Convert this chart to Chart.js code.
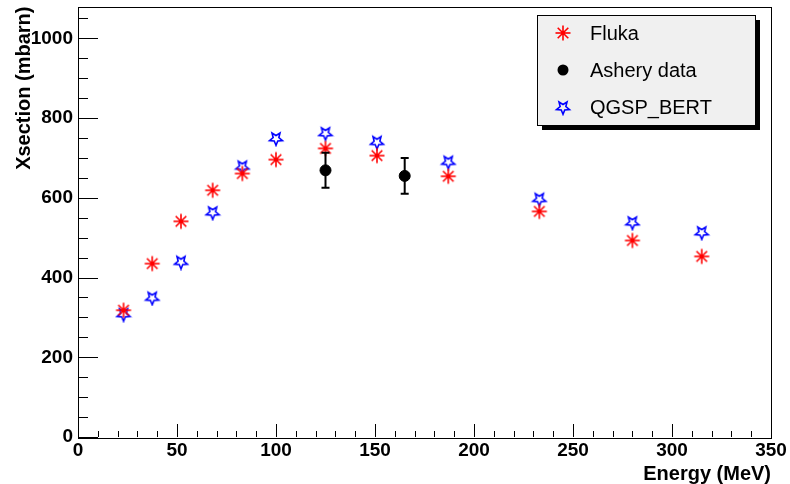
<!DOCTYPE html>
<html>
<head>
<meta charset="utf-8">
<script src="https://cdn.jsdelivr.net/npm/chart.js@4/dist/chart.umd.min.js"></script>
<style>
  html, body { margin: 0; padding: 0; background: #fff; }
  #chart { display: block; }
</style>
</head>
<body>
<canvas id="chart" width="790" height="484"></canvas>
<script>
// Cross-section vs energy (ROOT-style plot)

const energy = [23, 37.5, 52, 68, 83, 100, 125, 151, 187, 233, 280, 315];
const fluka = [318, 435, 541, 619, 661, 696, 724, 706, 654, 566, 493, 453];
const bert = [309, 350, 440, 564, 679, 750, 763, 741, 691, 598, 539, 514];
const asheryEnergy = [125, 165];
const ashery = [669, 655];
const asheryErr = [44, 45];

const xTicks = [0, 50, 100, 150, 200, 250, 300, 350];
const yTicks = [0, 200, 400, 600, 800, 1000];
const X_MINOR = 10;
const Y_MINOR = 50;

const FONT = "'Liberation Sans', Arial, Helvetica, sans-serif";

// ===== Marker images =====
function makeAsterisk() {
  const c = document.createElement("canvas");
  c.width = 18; c.height = 18;
  const g = c.getContext("2d");
  g.strokeStyle = "#ff0000";
  g.lineWidth = 1.6;
  const r = 7.5;
  for (let k = 0; k < 4; k++) {
    const a = k * Math.PI / 4;
    g.beginPath();
    g.moveTo(9 - r * Math.cos(a), 9 - r * Math.sin(a));
    g.lineTo(9 + r * Math.cos(a), 9 + r * Math.sin(a));
    g.stroke();
  }
  g.fillStyle = "#ff0000";
  g.beginPath();
  g.arc(9, 9, 2.2, 0, Math.PI * 2);
  g.fill();
  return c;
}

function makeStar() {
  const c = document.createElement("canvas");
  c.width = 18; c.height = 18;
  const g = c.getContext("2d");
  g.strokeStyle = "#0000ff";
  g.lineWidth = 1.6;
  const R = 6.8, ri = 3;
  g.beginPath();
  for (let i = 0; i < 10; i++) {
    const a = Math.PI / 2 + i * Math.PI / 5;
    const rr = i % 2 === 0 ? R : ri;
    const px = 9 + rr * Math.cos(a);
    const py = 9.5 + rr * Math.sin(a);
    if (i === 0) g.moveTo(px, py); else g.lineTo(px, py);
  }
  g.closePath();
  g.stroke();
  return c;
}

const asteriskImg = makeAsterisk();
const starImg = makeStar();

// keep the frame fixed: no extra padding for overflowing tick labels
function noPad(s) {
  s.paddingTop = 0; s.paddingBottom = 0;
  s.paddingLeft = 0; s.paddingRight = 0;
}

// ===== Plugins =====
const frameTicks = {
  id: "frameTicks",
  afterDraw(chart) {
    const { ctx, chartArea: a, scales: { x, y } } = chart;
    ctx.save();
    ctx.strokeStyle = "#000";
    ctx.lineWidth = 1;
    ctx.strokeRect(Math.round(a.left) + 0.5, Math.round(a.top) + 0.5,
      Math.round(a.right - a.left), Math.round(a.bottom - a.top));

    ctx.beginPath();
    for (let v = x.min; v <= x.max; v += X_MINOR) {
      const px = Math.round(x.getPixelForValue(v)) + 0.5;
      const len = xTicks.includes(v) ? 13 : 6;
      ctx.moveTo(px, a.bottom);
      ctx.lineTo(px, a.bottom - len);
    }
    for (let v = y.min; v <= y.max; v += Y_MINOR) {
      const py = Math.round(y.getPixelForValue(v)) + 0.5;
      const len = yTicks.includes(v) ? 20 : 10;
      ctx.moveTo(a.left, py);
      ctx.lineTo(a.left + len, py);
    }
    ctx.stroke();
    ctx.restore();
  },
};

const errorBars = {
  id: "errorBars",
  afterDatasetsDraw(chart) {
    const { ctx, scales: { x, y } } = chart;
    ctx.save();
    ctx.strokeStyle = "#000";
    ctx.lineWidth = 2;
    asheryEnergy.forEach((e, i) => {
      const px = x.getPixelForValue(e);
      const hi = y.getPixelForValue(ashery[i] + asheryErr[i]);
      const lo = y.getPixelForValue(ashery[i] - asheryErr[i]);
      ctx.beginPath();
      ctx.moveTo(px, hi); ctx.lineTo(px, lo);
      ctx.moveTo(px - 4, hi); ctx.lineTo(px + 4, hi);
      ctx.moveTo(px - 4, lo); ctx.lineTo(px + 4, lo);
      ctx.stroke();
    });
    ctx.restore();
  },
};

const legendBox = {
  id: "legendBox",
  afterDraw(chart) {
    const { ctx } = chart;
    const bx = 537, by = 15, bw = 218, bh = 110, sh = 5;
    ctx.save();
    ctx.fillStyle = "#000";
    ctx.fillRect(bx + sh, by + sh, bw, bh);
    ctx.fillStyle = "#f0f0f0";
    ctx.fillRect(bx, by, bw, bh);
    ctx.strokeStyle = "#000";
    ctx.lineWidth = 1;
    ctx.strokeRect(bx + 0.5, by + 0.5, bw, bh);

    ctx.font = "20px " + FONT;
    ctx.fillStyle = "#000";
    ctx.textBaseline = "middle";
    chart.data.datasets.forEach((ds, i) => {
      const ly = 33 + i * 37;
      const mx = 563;
      if (ds.pointStyle instanceof HTMLCanvasElement) {
        ctx.drawImage(ds.pointStyle, mx - 9, ly - 9);
      } else {
        ctx.beginPath();
        ctx.arc(mx, ly, 5.5, 0, Math.PI * 2);
        ctx.fill();
      }
      ctx.fillText(ds.label, 590, ly + 1);
    });
    ctx.restore();
  },
};

// ===== Chart =====
const toPoints = (xs, ys) => xs.map((v, i) => ({ x: v, y: ys[i] }));

new Chart(document.getElementById("chart"), {
  type: "scatter",
  data: {
    datasets: [
      {
        label: "Fluka",
        data: toPoints(energy, fluka),
        pointStyle: asteriskImg,
        order: 1,
      },
      {
        label: "Ashery data",
        data: toPoints(asheryEnergy, ashery),
        pointStyle: "circle",
        pointRadius: 5.5,
        backgroundColor: "#000",
        borderColor: "#000",
        order: 2,
      },
      {
        label: "QGSP_BERT",
        data: toPoints(energy, bert),
        pointStyle: starImg,
        order: 3,
      },
    ],
  },
  options: {
    responsive: false,
    animation: false,
    layout: { padding: { top: 6, right: 19, left: 0, bottom: 0 } },
    plugins: {
      legend: { display: false },
      tooltip: { enabled: false },
    },
    scales: {
      x: {
        type: "linear",
        min: 0,
        max: 350,
        afterBuildTicks: (s) => { s.ticks = xTicks.map((v) => ({ value: v })); },
        afterFit: (s) => { s.height = 47; noPad(s); },
        grid: { display: false, drawTicks: false },
        border: { display: false },
        ticks: {
          padding: 2,
          color: "#000",
          maxRotation: 0,
          callback: (v) => String(v),
          font: { family: FONT, size: 19, weight: "bold" },
        },
        title: {
          display: true,
          text: "Energy (MeV)",
          align: "end",
          color: "#000",
          padding: { top: 0, bottom: 0 },
          font: { family: FONT, size: 20, weight: "bold", lineHeight: 1 },
        },
      },
      y: {
        type: "linear",
        min: 0,
        max: 1080,
        afterBuildTicks: (s) => { s.ticks = yTicks.map((v) => ({ value: v })); },
        afterFit: (s) => { s.width = 78; noPad(s); },
        grid: { display: false, drawTicks: false },
        border: { display: false },
        ticks: {
          padding: 5,
          color: "#000",
          callback: (v) => String(v),
          font: { family: FONT, size: 19, weight: "bold" },
        },
        title: {
          display: true,
          text: "Xsection (mbarn)",
          align: "end",
          color: "#000",
          padding: { top: 14, bottom: 0 },
          font: { family: FONT, size: 20, weight: "bold", lineHeight: 1 },
        },
      },
    },
  },
  plugins: [errorBars, frameTicks, legendBox],
});
</script>
</body>
</html>
